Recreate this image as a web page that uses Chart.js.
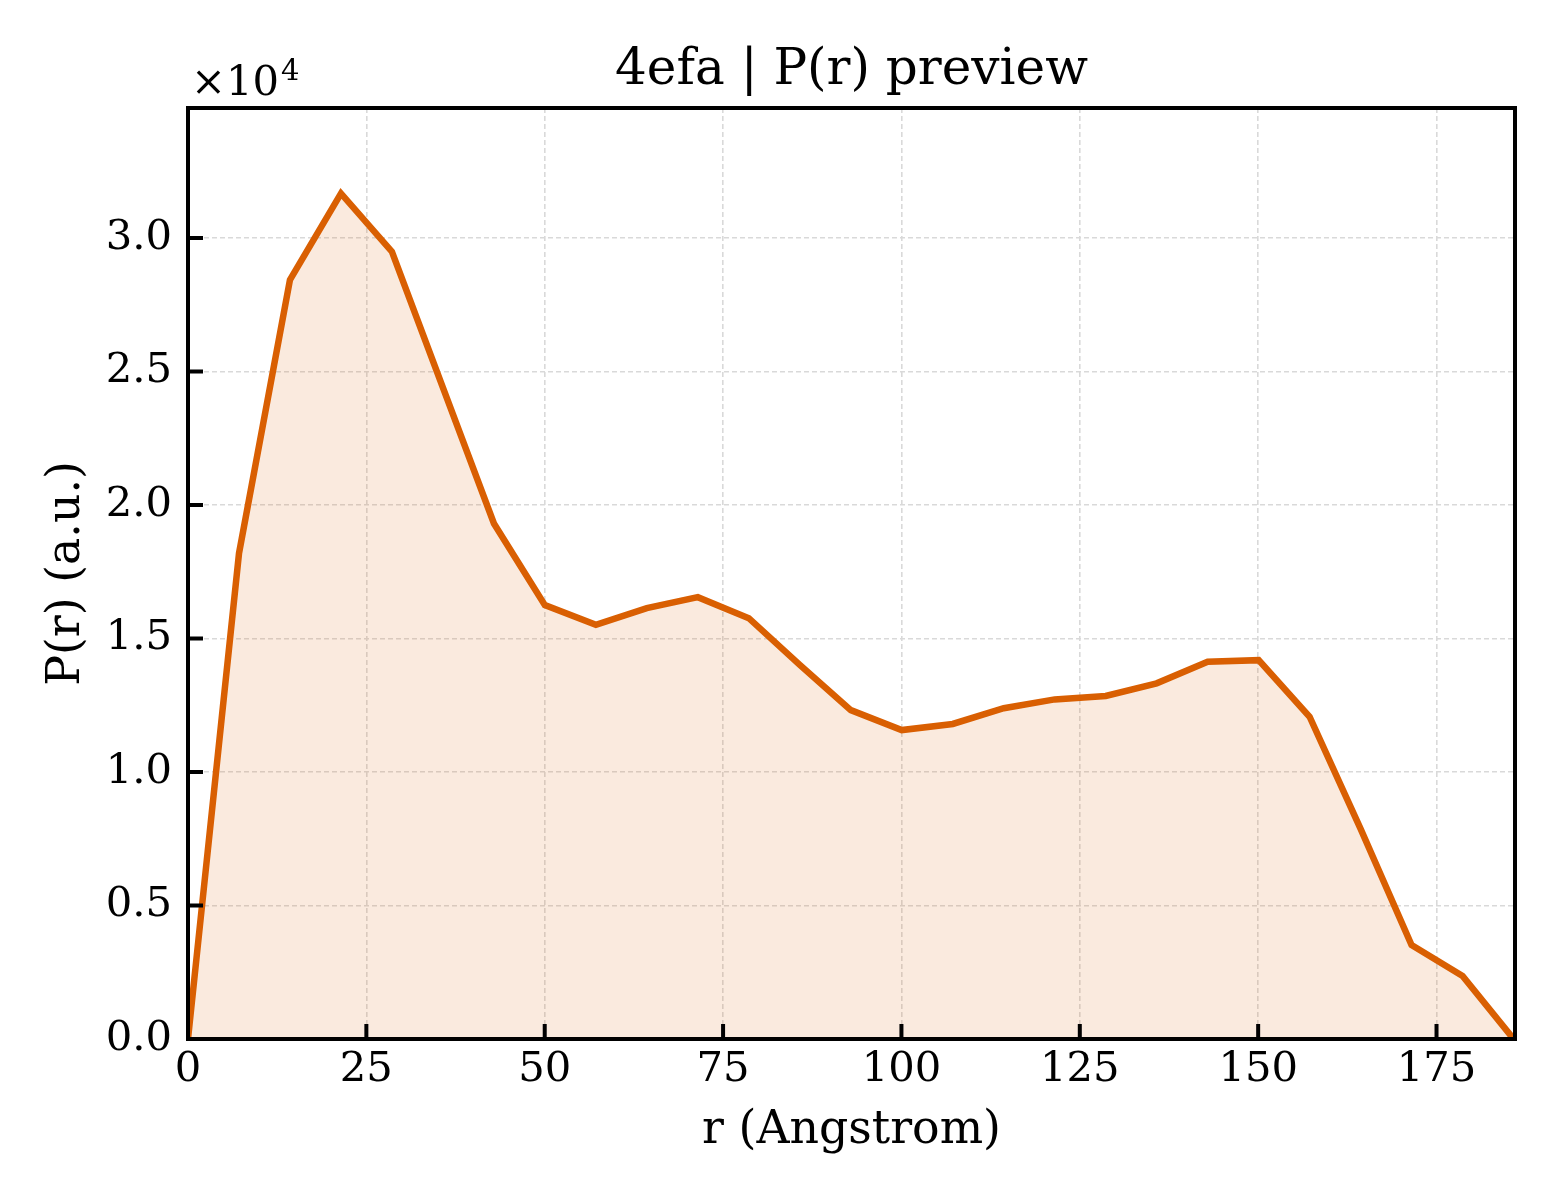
<!DOCTYPE html>
<html>
<head>
<meta charset="utf-8">
<script src="https://cdn.jsdelivr.net/npm/chart.js@4/dist/chart.umd.min.js"></script>
<style>
  html, body { margin: 0; padding: 0; background: #fff; }
  #wrap { width: 1560px; height: 1200px; position: relative; }
</style>
</head>
<body>
<div id="wrap"><canvas id="prChart"></canvas></div>
<script>
// P(r) samples (r in Angstrom, P in a.u.)
const rValues = [0, 7.15, 14.29, 21.44, 28.58, 35.73, 42.88, 50.02, 57.17, 64.31,
                 71.46, 78.61, 85.75, 92.90, 100.04, 107.19, 114.34, 121.48, 128.63,
                 135.77, 142.92, 150.07, 157.21, 164.36, 171.50, 178.65, 185.80];
const prValues = [0, 18190, 28430, 31670, 29490, 24400, 19310, 16250, 15510, 16140,
                  16550, 15760, 14010, 12320, 11570, 11800, 12390, 12720, 12850,
                  13320, 14130, 14190, 12070, 7870, 3520, 2360, 0];
const xTicks = [0, 25, 50, 75, 100, 125, 150, 175];
const yTicks = [0, 5000, 10000, 15000, 20000, 25000, 30000];

const LINE = '#d95f02';
const SERIF = '"DejaVu Serif", "Liberation Serif", serif';

// matplotlib style frame: full box, inward ticks on left/bottom, x10^4 offset text
const framePlugin = {
    id: 'frame',
    afterDraw(chart) {
        const { ctx, chartArea: a, scales } = chart;
        ctx.save();
        ctx.strokeStyle = '#000';
        ctx.lineWidth = 4;
        ctx.beginPath();
        xTicks.forEach(v => {
            const px = scales.x.getPixelForValue(v);
            ctx.moveTo(px, a.bottom);
            ctx.lineTo(px, a.bottom - 15);
        });
        yTicks.forEach(v => {
            const py = scales.y.getPixelForValue(v);
            ctx.moveTo(a.left, py);
            ctx.lineTo(a.left + 15, py);
        });
        ctx.stroke();
        ctx.lineJoin = 'miter';
        ctx.strokeRect(a.left, a.top, a.right - a.left, a.bottom - a.top);

        ctx.fillStyle = '#000';
        ctx.textBaseline = 'alphabetic';
        ctx.textAlign = 'left';
        ctx.font = '41.7px ' + SERIF;
        ctx.fillText('\u00d710', 191, 95);
        const w = ctx.measureText('\u00d710').width;
        ctx.font = '29px ' + SERIF;
        ctx.fillText('4', 191 + w + 2, 80);
        ctx.restore();
    }
};

new Chart(document.getElementById('prChart'), {
    type: 'line',
    data: {
        datasets: [{
            label: 'P(r)',
            data: rValues.map((r, i) => ({ x: r, y: prValues[i] })),
            borderColor: LINE,
            backgroundColor: 'rgba(217,95,2,0.13)',
            borderWidth: 6.5,
            fill: 'origin',
            pointRadius: 0,
            tension: 0
        }]
    },
    options: {
        responsive: true,
        maintainAspectRatio: false,
        animation: false,
        layout: { padding: { left: 0, right: 45, top: 0, bottom: 0 } },
        plugins: {
            legend: { display: false },
            tooltip: { enabled: false },
            title: {
                display: true,
                fullSize: false,
                text: '4efa | P(r) preview',
                color: '#000',
                font: { family: SERIF, size: 50, weight: 'normal' },
                padding: { top: 41, bottom: 7 }
            }
        },
        scales: {
            x: {
                type: 'linear',
                min: 0,
                max: 186,
                afterFit(s) { s.height = 161; },
                afterBuildTicks(s) { s.ticks = xTicks.map(v => ({ value: v })); },
                ticks: {
                    color: '#000',
                    font: { family: SERIF, size: 41.7 },
                    padding: 6,
                    maxRotation: 0,
                    autoSkip: false
                },
                grid: { color: '#d9d9d9', lineWidth: 1.6, drawTicks: false },
                border: { display: false, dash: [5, 3] },
                title: {
                    display: true,
                    text: 'r (Angstrom)',
                    color: '#000',
                    font: { family: SERIF, size: 45.8 },
                    padding: { top: 0, bottom: 41 }
                }
            },
            y: {
                min: 0,
                max: 34870,
                afterFit(s) { s.width = 188; },
                afterBuildTicks(s) { s.ticks = yTicks.map(v => ({ value: v })); },
                ticks: {
                    color: '#000',
                    font: { family: SERIF, size: 41.7 },
                    padding: 16,
                    callback: v => (v / 1e4).toFixed(1)
                },
                grid: { color: '#d9d9d9', lineWidth: 1.6, drawTicks: false },
                border: { display: false, dash: [5, 3] },
                title: {
                    display: true,
                    text: 'P(r) (a.u.)',
                    color: '#000',
                    font: { family: SERIF, size: 45.8 },
                    padding: { top: 40, bottom: 0 }
                }
            }
        }
    },
    plugins: [framePlugin]
});
</script>
</body>
</html>
